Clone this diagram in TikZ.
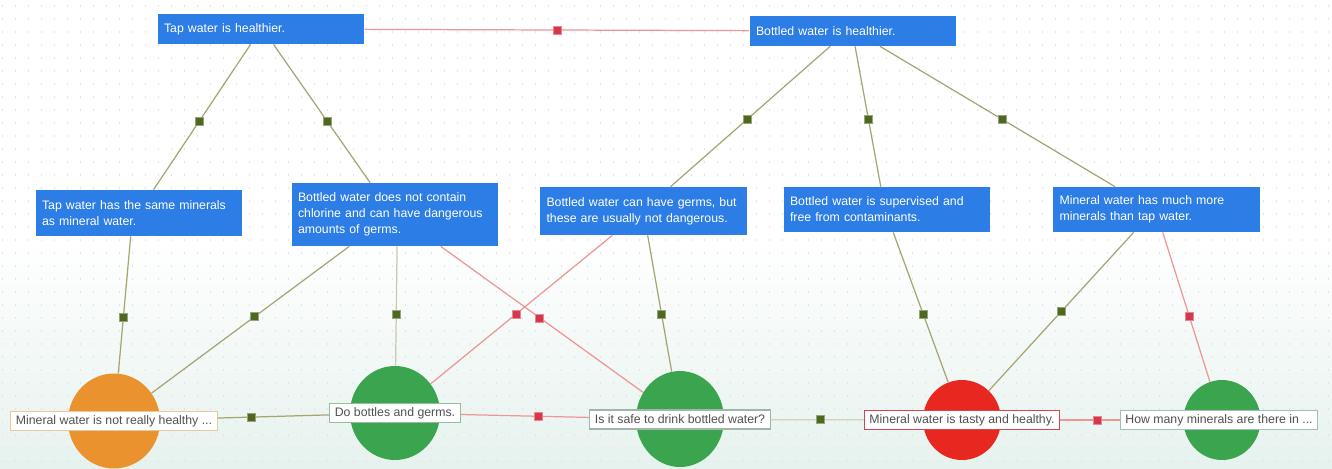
\documentclass[tikz,border=0pt]{standalone}
\usepackage{fontspec}
\setmainfont{Liberation Sans}
\usetikzlibrary{
  shapes.geometric,
  calc,
  positioning
}
\definecolor{boxblue}{RGB}{45,125,230}
\definecolor{linkgreen}{RGB}{165,165,115}
\definecolor{linkred}{RGB}{236,150,150}
\definecolor{sqgreen}{RGB}{78,104,32}
\definecolor{sqred}{RGB}{214,55,75}
\definecolor{issueorange}{RGB}{234,146,45}
\definecolor{issuegreen}{RGB}{58,165,78}
\definecolor{issuered}{RGB}{232,40,32}
\definecolor{bgmint}{RGB}{230,242,238}
\definecolor{labelgray}{RGB}{80,80,80}

\begin{document}
\begin{tikzpicture}[x=0.02cm,y=-0.02cm,
		claim/.style={rectangle,fill=boxblue,text=white,align=left,text width=3.88cm,inner xsep=0.13cm,font=\fontsize{7}{9}\selectfont},
		issue/.style={ellipse,inner sep=0pt},
		lbl/.style={rectangle,fill=white,text=labelgray,inner xsep=0.1cm,inner ysep=0.02cm,minimum height=0.38cm,line width=0.6pt,font=\fontsize{7}{9}\selectfont},
		pro/.style={draw=linkgreen,line width=0.7pt},
		con/.style={draw=linkred,line width=0.7pt},
		gsq/.style={rectangle,fill=sqgreen,draw=sqgreen!60!white,line width=0.4pt,minimum size=0.16cm,inner sep=0pt},
		rsq/.style={rectangle,fill=sqred,draw=sqred!60!white,line width=0.4pt,minimum size=0.16cm,inner sep=0pt}]
		\useasboundingbox (0,0) rectangle (1332,468);
		\fill[white] (0,0) rectangle (1332,468);
		\shade[top color=white,bottom color=bgmint] (0,240) rectangle (1332,468);
		\foreach \y in {6,19,...,468}
			\draw[gray!22,line width=0.7pt,dash pattern=on 0.7pt off 6.7pt] (2,\y) -- (1332,\y);

		\node[claim,minimum height=0.6cm] (1) at (261,29) {Tap water is healthier.};
		\node[claim,minimum height=0.6cm] (2) at (853,31) {Bottled water is healthier.};
		\node[claim,minimum height=0.92cm] (3) at (139,213) {Tap water has the same minerals\\as mineral water.};
		\node[claim,minimum height=1.26cm] (4) at (395,214.5) {Bottled water does not contain\\chlorine and can have dangerous\\amounts of germs.};
		\node[claim,minimum height=0.96cm] (5) at (643.5,211) {Bottled water can have germs, but\\these are usually not dangerous.};
		\node[claim,minimum height=0.9cm] (6) at (887,209.5) {Bottled water is supervised and\\free from contaminants.};
		\node[claim,minimum height=0.9cm] (7) at (1156.5,209.5) {Mineral water has much more\\minerals than tap water.};

		\node[issue,fill=issueorange,minimum width=1.84cm,minimum height=1.9cm] (8) at (114,421) {};
		\node[issue,fill=issuegreen,minimum width=1.8cm,minimum height=1.88cm] (9) at (395,413) {};
		\node[issue,fill=issuegreen,minimum width=1.76cm,minimum height=1.92cm] (10) at (680,419) {};
		\node[issue,fill=issuered,minimum width=1.56cm,minimum height=1.6cm] (11) at (962,420) {};
		\node[issue,fill=issuegreen,minimum width=1.54cm,minimum height=1.6cm] (12) at (1222,420) {};

		\node[lbl,draw={rgb,255:red,232;green,200;blue,160}] (13) at (8) {Mineral water is not really healthy ...};
		\node[lbl,draw={rgb,255:red,150;green,190;blue,160}] (14) at (9) {Do bottles and germs.};
		\node[lbl,draw={rgb,255:red,160;green,182;blue,170}] (15) at ([yshift=-0.01cm]10) {Is it safe to drink bottled water?};
		\node[lbl,draw={rgb,255:red,210;green,70;blue,80}] (16) at (11) {Mineral water is tasty and healthy.};
		\node[lbl,draw={rgb,255:red,160;green,190;blue,190}] (17) at ([xshift=-0.06cm]12) {How many minerals are there in ...};

		% top level
		\draw[con] (1) -- node[rsq] (a1) {} (2);
		\draw[pro] ($(1.south west)!0.45!(1.south east)$) -- node[gsq,pos=0.53] (a2) {} ($(3.north west)!0.57!(3.north east)$);
		\draw[pro] ($(1.south west)!0.56!(1.south east)$) -- node[gsq,pos=0.56] (a3) {} ($(4.north west)!0.38!(4.north east)$);
		\draw[pro] ($(2.south west)!0.39!(2.south east)$) -- node[gsq,pos=0.52] (a4) {} ($(5.north west)!0.63!(5.north east)$);
		\draw[pro] ($(2.south west)!0.51!(2.south east)$) -- node[gsq,pos=0.52] (a5) {} ($(6.north west)!0.47!(6.north east)$);
		\draw[pro] ($(2.south west)!0.63!(2.south east)$) -- node[gsq,pos=0.52] (a6) {} ($(7.north west)!0.3!(7.north east)$);

		% claims to issues
		\draw[pro] ($(3.south west)!0.46!(3.south east)$) -- node[gsq,pos=0.59] (b1) {} (8);
		\draw[pro] ($(4.south west)!0.28!(4.south east)$) -- node[gsq,pos=0.48] (b2) {} (8);
		\draw[pro,draw=linkgreen!60] ($(4.south west)!0.51!(4.south east)$) -- node[gsq,pos=0.57] (b3) {} (9);
		\draw[con] ($(4.south west)!0.72!(4.south east)$) -- node[rsq,pos=0.49] (b4) {} (10);
		\draw[con] ($(5.south west)!0.35!(5.south east)$) -- node[rsq,pos=0.53] (b5) {} (9);
		\draw[pro] ($(5.south west)!0.52!(5.south east)$) -- node[gsq,pos=0.58] (b6) {} (10);
		\draw[pro] ($(6.south west)!0.53!(6.south east)$) -- node[gsq,pos=0.55] (b7) {} (11);
		\draw[pro] ($(7.south west)!0.39!(7.south east)$) -- node[gsq,pos=0.5] (b8) {} (11);
		\draw[con] ($(7.south west)!0.53!(7.south east)$) -- node[rsq,pos=0.56] (b9) {} (12);

		% issues
		\draw[pro] (13) -- node[gsq,pos=0.3] (c1) {} (14);
		\draw[con] (14) -- node[rsq,pos=0.6] (c2) {} (15);
		\draw[pro,draw=linkgreen!50] (15) -- node[gsq,pos=0.53] (c3) {} (16);
		\draw[con] (16) -- node[rsq,pos=0.62] (c4) {} (17);
	\end{tikzpicture}
\end{document}
